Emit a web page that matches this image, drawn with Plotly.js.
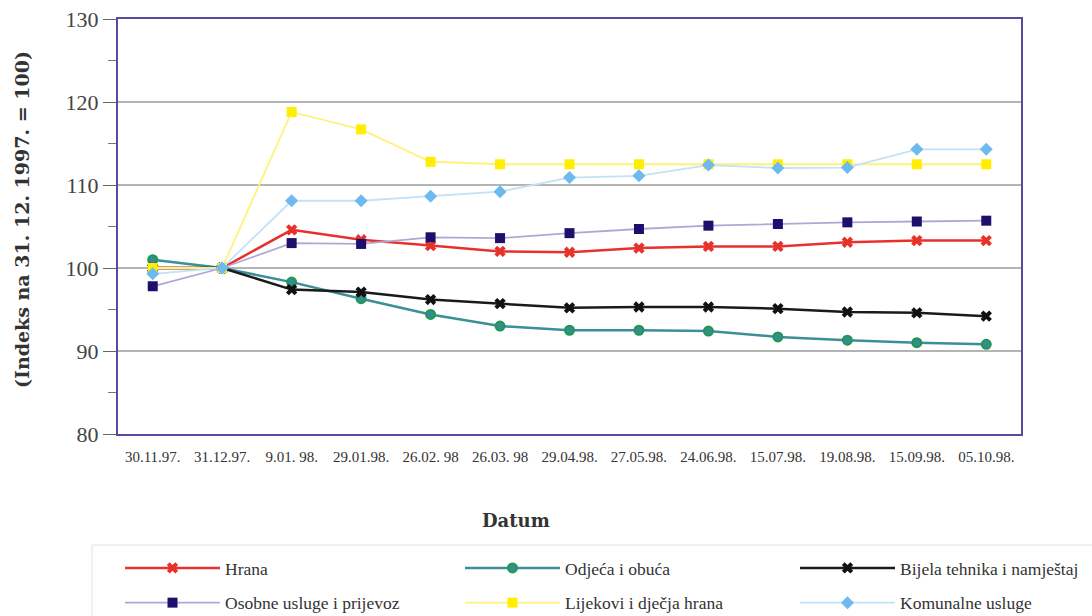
<!DOCTYPE html>
<html>
<head>
<meta charset="utf-8">
<script src="https://cdn.plot.ly/plotly-3.0.1.min.js"></script>
<style>html,body{margin:0;padding:0;background:#fff}#chart{width:1092px;height:616px}</style>
</head>
<body>
<div id="chart"></div>
<script>
const dates = ["30.11.97.", "31.12.97.", "9.01. 98.", "29.01.98.", "26.02. 98", "26.03. 98", "29.04.98.", "27.05.98.", "24.06.98.", "15.07.98.", "19.08.98.", "15.09.98.", "05.10.98."];
const hrana = [100, 100, 104.6, 103.4, 102.7, 102.0, 101.9, 102.4, 102.6, 102.6, 103.1, 103.3, 103.3];
const odjeca = [101.0, 100, 98.3, 96.3, 94.4, 93.0, 92.5, 92.5, 92.4, 91.7, 91.3, 91.0, 90.8];
const bijela = [100, 100, 97.4, 97.1, 96.2, 95.7, 95.2, 95.3, 95.3, 95.1, 94.7, 94.6, 94.2];
const osobne = [97.8, 100, 103.0, 102.9, 103.7, 103.6, 104.2, 104.7, 105.1, 105.3, 105.5, 105.6, 105.7];
const lijekovi = [100, 100, 118.8, 116.7, 112.8, 112.5, 112.5, 112.5, 112.5, 112.5, 112.5, 112.5, 112.5];
const komunalne = [99.3, 100, 108.1, 108.1, 108.65, 109.2, 110.9, 111.1, 112.4, 112.05, 112.1, 114.3, 114.3];
const seriesNames = ["Hrana", "Odjeća i obuća", "Bijela tehnika i namještaj", "Osobne usluge i prijevoz", "Lijekovi i dječja hrana", "Komunalne usluge"];
const yTickVals = [80, 90, 100, 110, 120, 130];
const yTitle = "(Indeks na 31. 12. 1997. = 100)";
const xTitle = "Datum";

const serif = "Liberation Serif, Times New Roman, serif";

const traces = [
  {y: hrana, name: seriesNames[0], legend: 'legend', legendgroup: 'a', line: {color: '#e6322a', width: 2.5}, marker: {symbol: 'x', size: 10, color: '#e6322a'}},
  {y: odjeca, name: seriesNames[1], legend: 'legend2', legendgroup: 'b', line: {color: '#3a8f98', width: 2.5}, marker: {symbol: 'circle', size: 9, color: '#3a8a95', line: {color: '#1b9a4c', width: 2}}},
  {y: bijela, name: seriesNames[2], legend: 'legend3', legendgroup: 'c', line: {color: '#1a1a1a', width: 2.5}, marker: {symbol: 'x', size: 10, color: '#111111'}},
  {y: osobne, name: seriesNames[3], legend: 'legend', legendgroup: 'd', line: {color: '#b3a6d6', width: 1.8}, marker: {symbol: 'square', size: 10, color: '#1e0f6c'}},
  {y: lijekovi, name: seriesNames[4], legend: 'legend2', legendgroup: 'e', line: {color: '#fff27a', width: 1.8}, marker: {symbol: 'square', size: 10, color: '#ffee00'}},
  {y: komunalne, name: seriesNames[5], legend: 'legend3', legendgroup: 'f', line: {color: '#c2e2f7', width: 1.8}, marker: {symbol: 'diamond', size: 10, color: '#6cbaf0'}}
].map(t => Object.assign({x: dates, type: 'scatter', mode: 'lines+markers', hoverinfo: 'x+y+name'}, t));

function legendAt(px) {
  return {
    orientation: 'v', xref: 'container', yref: 'container',
    x: px / 1092, xanchor: 'left', y: 1 - 550 / 616, yanchor: 'top',
    itemwidth: 95, tracegroupgap: 9, itemsizing: 'trace',
    font: {family: serif, size: 17.5, color: '#333333'},
    bgcolor: 'rgba(0,0,0,0)', borderwidth: 0
  };
}

const layout = {
  width: 1092, height: 616,
  margin: {l: 118, r: 71, t: 19, b: 182, autoexpand: false},
  paper_bgcolor: '#ffffff', plot_bgcolor: '#ffffff',
  showlegend: true,
  font: {family: serif, color: '#333333'},
  xaxis: {
    type: 'category', range: [-0.5, 12.5], automargin: false,
    showline: true, linecolor: '#5a4a9e', linewidth: 2, mirror: true,
    showgrid: false, zeroline: false, ticks: '',
    tickfont: {family: serif, size: 15, color: '#333333'},
    ticklabelstandoff: 8
  },
  yaxis: {
    range: [80, 130], tickvals: yTickVals, automargin: false,
    showline: true, linecolor: '#5a4a9e', linewidth: 2, mirror: true,
    showgrid: true, gridcolor: '#b4b4b4', gridwidth: 1.5, zeroline: false,
    ticks: 'outside', ticklen: 13, tickcolor: '#666666', tickwidth: 1,
    minor: {dtick: 5, ticks: 'outside', ticklen: 8, tickcolor: '#777777', tickwidth: 1, showgrid: false},
    tickfont: {family: serif, size: 22, color: '#444444'}
  },
  yaxis2: {
    overlaying: 'y', matches: 'y', range: [80, 130], showline: false, showgrid: false, zeroline: false,
    showticklabels: false, ticks: '', tickvals: [], automargin: false,
    minor: {dtick: 5, ticks: 'inside', ticklen: 9, tickcolor: '#777777', tickwidth: 1, showgrid: false}
  },
  legend: legendAt(120),
  legend2: legendAt(460),
  legend3: legendAt(795),
  annotations: [
    {text: '<b>' + xTitle + '</b>', xref: 'paper', yref: 'paper', x: (516 - 118) / 903, y: (434 - 520) / 415,
     xanchor: 'center', yanchor: 'middle', showarrow: false,
     font: {family: 'DejaVu Serif, serif', size: 18, color: '#333333'}},
    {text: '<b>' + yTitle + '</b>', xref: 'paper', yref: 'paper', x: (22 - 118) / 903, y: (434 - 220) / 415,
     xanchor: 'center', yanchor: 'middle', textangle: -90, showarrow: false,
     font: {family: 'DejaVu Serif, serif', size: 19, color: '#333333'}}
  ],
  shapes: [
    {type: 'rect', xref: 'paper', yref: 'paper', x0: (92 - 118) / 903, x1: (1100 - 118) / 903,
     y0: (434 - 545) / 415, y1: (434 - 640) / 415, line: {color: '#e2e2e2', width: 1}, fillcolor: 'rgba(0,0,0,0)', layer: 'below'}
  ]
};

Plotly.newPlot('chart', traces, layout, {displayModeBar: false, staticPlot: true});
</script>
</body>
</html>
